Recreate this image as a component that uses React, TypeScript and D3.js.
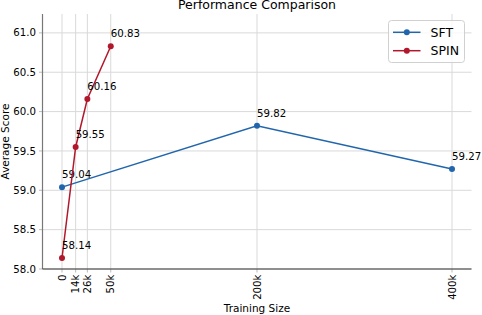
import React from "react";
import * as d3 from "d3";

const W = 482;
const H = 315;

const sftSizes = [0, 200, 400];
const sftScores = [59.04, 59.82, 59.27];
const spinSizes = [0, 14, 26, 50];
const spinScores = [58.14, 59.55, 60.16, 60.83];
const xTickValues = [0, 14, 26, 50, 200, 400];
const xTickLabels = ["0", "14k", "26k", "50k", "200k", "400k"];
const yTickValues = [58.0, 58.5, 59.0, 59.5, 60.0, 60.5, 61.0];

const SFT_COLOR = "#2166ac";
const SPIN_COLOR = "#b2182b";
const FONT = "DejaVu Sans, sans-serif";

export default function App() {
  const left = 42.5, right = 471.5, top = 14, bottom = 269;
  const x = d3.scaleLinear().domain([-20, 420]).range([left, right]);
  const y = d3.scaleLinear().domain([58.0, 61.24]).range([bottom, top]);
  const line = d3.line<[number, number]>().x(d => x(d[0])).y(d => y(d[1]));

  const series = [
    { name: "SFT", sizes: sftSizes, scores: sftScores, color: SFT_COLOR },
    { name: "SPIN", sizes: spinSizes, scores: spinScores, color: SPIN_COLOR },
  ];

  return (
    <svg width={W} height={H} style={{ position: "absolute", left: 0, top: 0, background: "#fff" }} fontFamily={FONT}>
      {/* grid */}
      {yTickValues.map(v => (
        <line key={"gy" + v} x1={left} x2={right} y1={y(v)} y2={y(v)} stroke="#d9d9d9" strokeWidth={1} />
      ))}
      {xTickValues.map(v => (
        <line key={"gx" + v} x1={x(v)} x2={x(v)} y1={top} y2={bottom} stroke="#d9d9d9" strokeWidth={1} />
      ))}
      {/* ticks */}
      {yTickValues.map(v => (
        <line key={"ty" + v} x1={left - 3.5} x2={left} y1={y(v)} y2={y(v)} stroke="#bbb" strokeWidth={1} />
      ))}
      {xTickValues.map(v => (
        <line key={"tx" + v} x1={x(v)} x2={x(v)} y1={bottom} y2={bottom + 3.5} stroke="#bbb" strokeWidth={1} />
      ))}
      {/* spines */}
      <line x1={left} x2={left} y1={top} y2={bottom} stroke="#777" strokeWidth={1.2} />
      <line x1={left} x2={right} y1={bottom} y2={bottom} stroke="#333" strokeWidth={1.2} />
      {/* y tick labels */}
      {yTickValues.map(v => (
        <text key={"yt" + v} x={left - 6.5} y={y(v)} dy="0.35em" textAnchor="end" fontSize={10.2} fill="#000">
          {v.toFixed(1)}
        </text>
      ))}
      {/* x tick labels */}
      {xTickValues.map((v, i) => (
        <text key={"xt" + v} transform={`translate(${x(v)},${bottom + 5.5}) rotate(-90)`} dy="0.35em" textAnchor="end" fontSize={10.2} fill="#000">
          {xTickLabels[i]}
        </text>
      ))}
      {/* lines */}
      {series.map(s => (
        <g key={s.name}>
          <path d={line(s.sizes.map((v, i) => [v, s.scores[i]]) as [number, number][]) || ""} fill="none" stroke={s.color} strokeWidth={1.5} />
          {s.sizes.map((v, i) => (
            <circle key={i} cx={x(v)} cy={y(s.scores[i])} r={3} fill={s.color} />
          ))}
          {s.sizes.map((v, i) => (
            <text key={"l" + i} x={x(v)} y={y(s.scores[i]) - 9} fontSize={10.2} fill="#000">
              {s.scores[i].toFixed(2)}
            </text>
          ))}
        </g>
      ))}
      {/* title & labels */}
      <text x={(left + right) / 2} y={9} textAnchor="middle" fontSize={12.5} fill="#000">Performance Comparison</text>
      <text x={(left + right) / 2} y={311.5} textAnchor="middle" fontSize={10.5} fill="#000">Training Size</text>
      <text transform={`translate(5.5,${(top + bottom) / 2}) rotate(-90)`} textAnchor="middle" dy="0.35em" fontSize={10.5} fill="#000">Average Score</text>
      {/* legend */}
      <g>
        <rect x={388.5} y={20.5} width={76} height={42} rx={3} fill="#fff" fillOpacity={0.8} stroke="#d0d0d0" strokeWidth={1} />
        {series.map((s, i) => (
          <g key={"lg" + s.name}>
            <line x1={393} x2={420.5} y1={32.3 + i * 18.4} y2={32.3 + i * 18.4} stroke={s.color} strokeWidth={1.5} />
            <circle cx={406.8} cy={32.3 + i * 18.4} r={3} fill={s.color} />
            <text x={430.5} y={32.3 + i * 18.4} dy="0.35em" fontSize={12.5} fill="#000">{s.name}</text>
          </g>
        ))}
      </g>
    </svg>
  );
}
